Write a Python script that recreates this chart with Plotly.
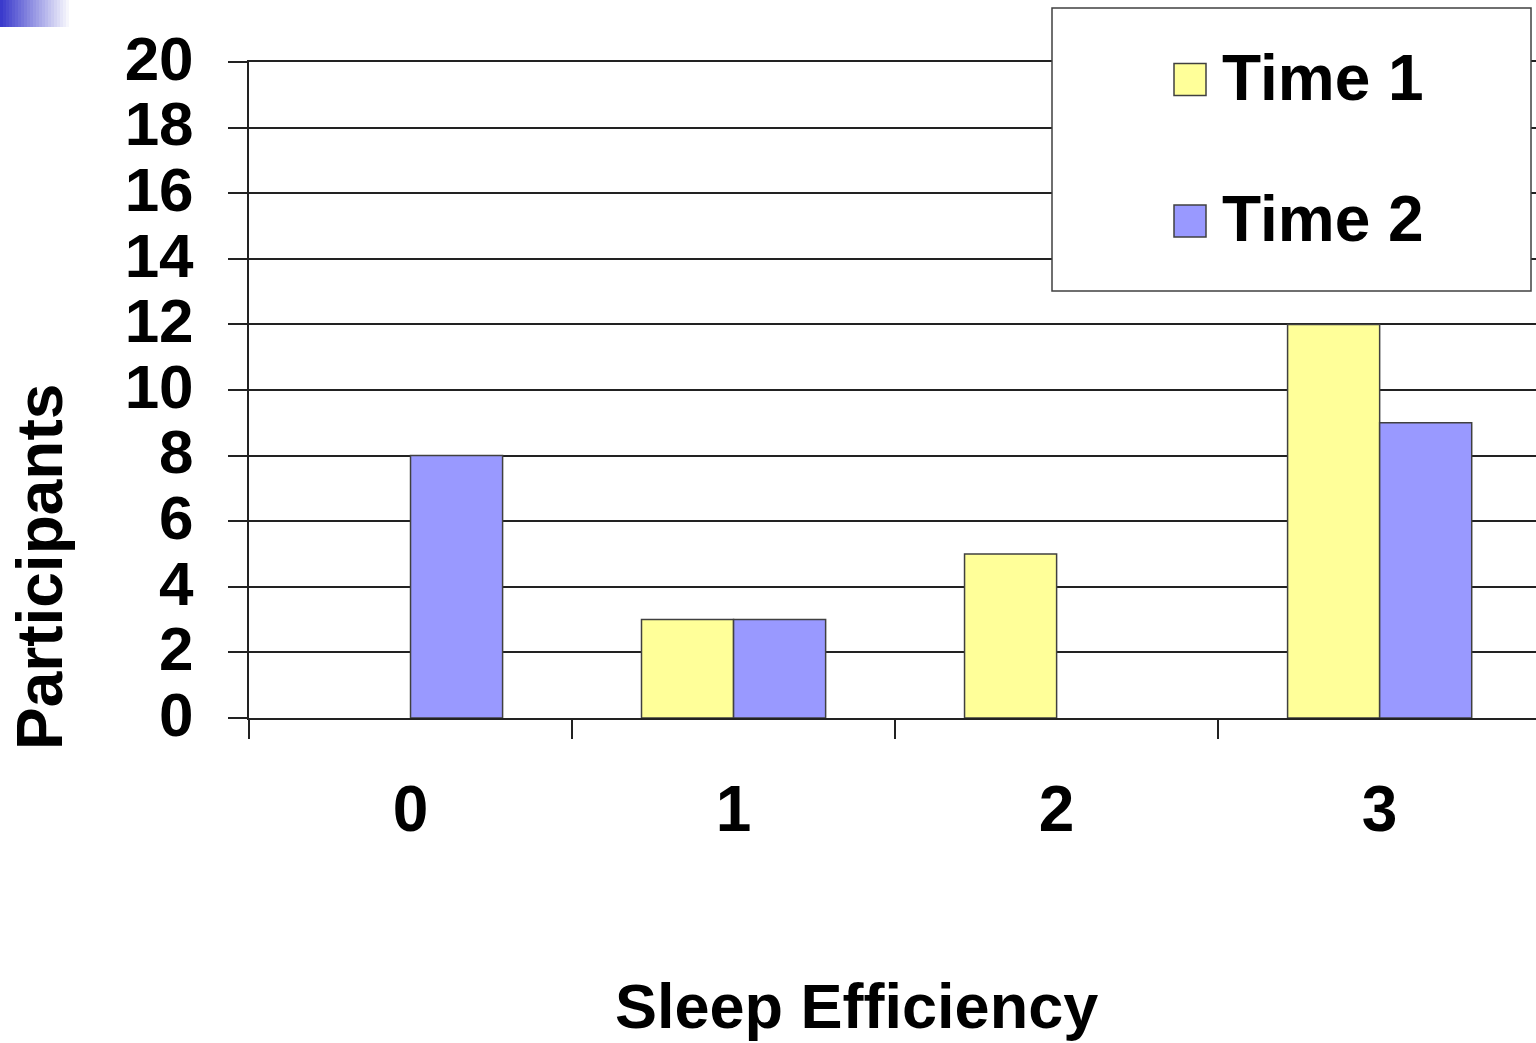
import plotly.graph_objects as go

# Data
categories = ["0", "1", "2", "3"]
time1 = [0, 3, 5, 12]
time2 = [8, 3, 0, 9]
series_names = ["Time 1", "Time 2"]
y_ticks = list(range(0, 21, 2))

# Styling
W, H = 1536, 1043
L, R, T, B = 249, 0, 62, 325
PW, PH = W - L - R, H - T - B
FONT = "Liberation Sans, Arial, sans-serif"
YELLOW = "#FFFF99"
BLUE = "#9999FF"
EDGE = "#404040"
GRID = "#222222"


def px(x):
    return (x - L) / PW


def py(y):
    return (H - B - y) / PH


fig = go.Figure()
for name, vals, col in zip(series_names, [time1, time2], [YELLOW, BLUE]):
    fig.add_trace(go.Bar(
        x=categories, y=vals, name=name,
        marker=dict(color=col,
                    line=dict(color=EDGE,
                              width=[1.5 if v else 0 for v in vals])),
        showlegend=False, hoverinfo="x+y+name",
    ))

shapes = []
annotations = []

# slide corner accent (horizontal fade)
steps = 24
for i in range(steps):
    t = i / (steps - 1)
    r = int(58 + (255 - 58) * t)
    g = int(58 + (255 - 58) * t)
    b = int(204 + (255 - 204) * t)
    x0 = i * 3
    shapes.append(dict(type="rect", xref="paper", yref="paper",
                       x0=px(x0), x1=px(x0 + 3.2), y0=py(0), y1=py(27),
                       fillcolor=f"rgb({r},{g},{b})", line=dict(width=0),
                       layer="above"))

# legend box
shapes.append(dict(type="rect", xref="paper", yref="paper",
                   x0=px(1052), x1=px(1531), y0=py(8), y1=py(291),
                   fillcolor="white", line=dict(color=EDGE, width=1.5),
                   layer="above"))
for name, col, cy in zip(series_names, [YELLOW, BLUE], [79.5, 221]):
    shapes.append(dict(type="rect", xref="paper", yref="paper",
                       x0=px(1174), x1=px(1206), y0=py(cy - 16), y1=py(cy + 16),
                       fillcolor=col, line=dict(color=EDGE, width=1.5),
                       layer="above"))
    annotations.append(dict(text=f"<b>{name}</b>", xref="paper", yref="paper",
                            x=px(1220), y=py(cy - 2), xanchor="left",
                            yanchor="middle", showarrow=False,
                            font=dict(family=FONT, size=64, color="black")))

# axis titles
annotations.append(dict(text="<b>Participants</b>", xref="paper", yref="paper",
                        x=px(40), y=py(567), textangle=-90, xanchor="center",
                        yanchor="middle", showarrow=False,
                        font=dict(family=FONT, size=64, color="black")))
annotations.append(dict(text="<b>Sleep Efficiency</b>", xref="paper", yref="paper",
                        x=px(856), y=py(1006), xanchor="center",
                        yanchor="middle", showarrow=False,
                        font=dict(family=FONT, size=63, color="black")))

fig.update_layout(
    width=W, height=H,
    margin=dict(l=L, r=R, t=T, b=B, pad=0),
    paper_bgcolor="white", plot_bgcolor="white",
    barmode="group", bargap=0.43, bargroupgap=0,
    shapes=shapes, annotations=annotations,
    font=dict(family=FONT, color="black"),
)
fig.update_xaxes(
    type="category", categoryorder="array", categoryarray=categories,
    range=[-0.5, 3.484], tickson="boundaries",
    ticks="outside", ticklen=19, tickwidth=2, tickcolor=GRID,
    showline=True, mirror=True, linecolor=GRID, linewidth=2,
    showgrid=False, zeroline=False,
    tickfont=dict(family=FONT, size=64, color="black", weight="bold"),
    ticklabelstandoff=34,
)
fig.update_yaxes(
    range=[0, 20], tickmode="array", tickvals=y_ticks,
    ticktext=[str(v) for v in y_ticks],
    ticks="outside", ticklen=19, tickwidth=2, tickcolor=GRID,
    showline=True, linecolor=GRID, linewidth=2,
    showgrid=True, gridcolor=GRID, gridwidth=2, zeroline=False,
    tickfont=dict(family=FONT, size=62, color="black", weight="bold"),
    ticklabelstandoff=22, ticklabelshift=-4,
)

fig.write_html("out.html")
